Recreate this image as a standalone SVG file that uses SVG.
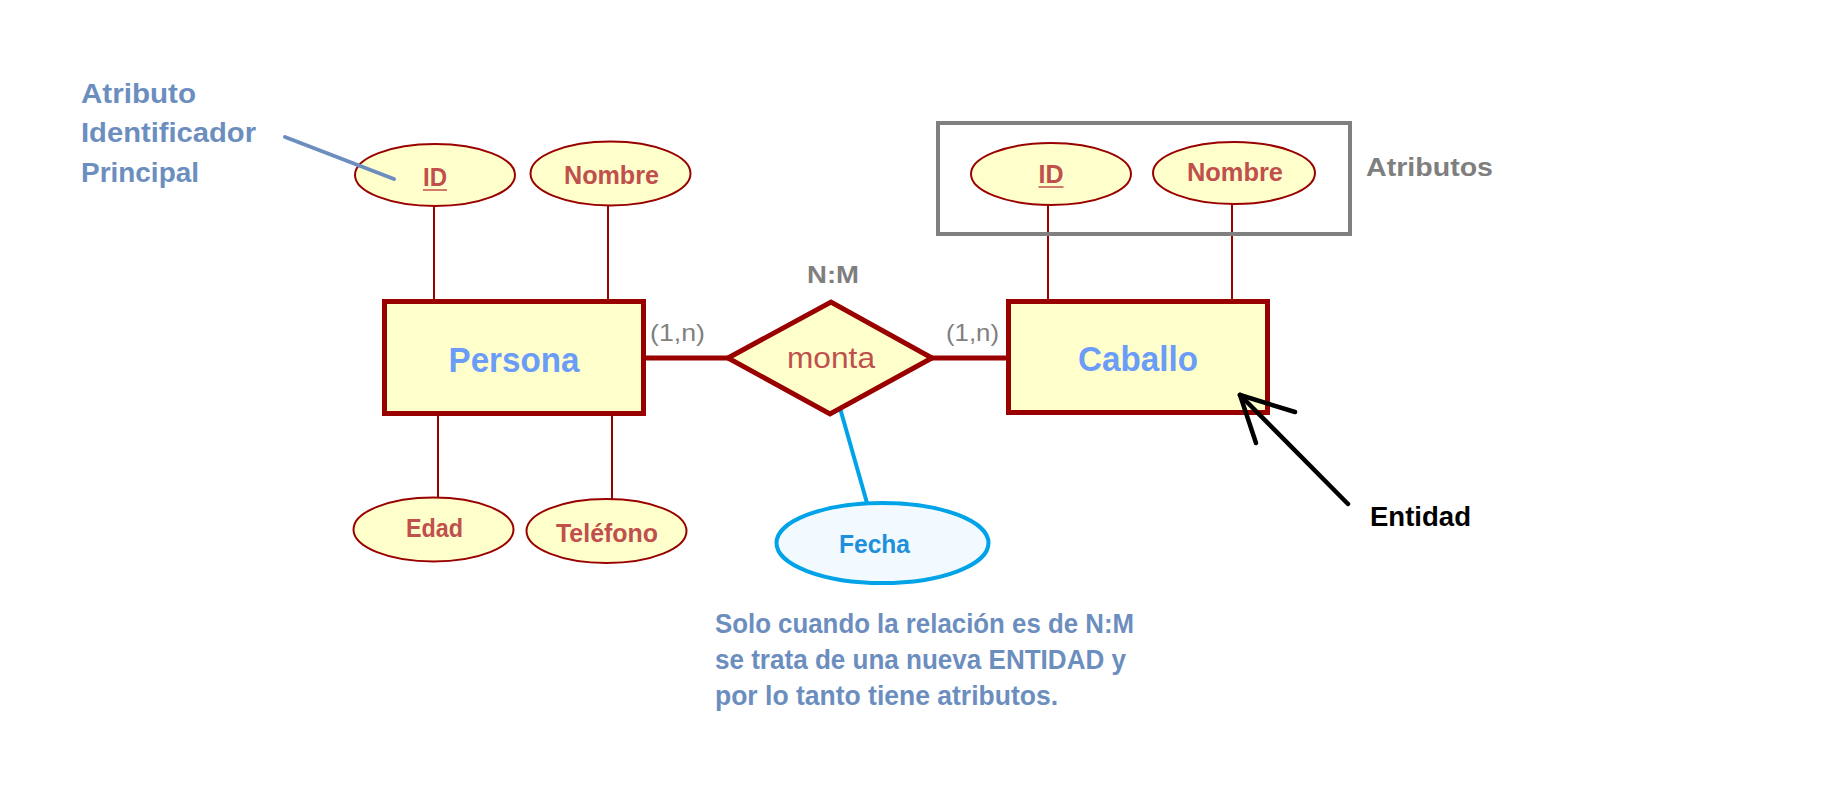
<svg xmlns="http://www.w3.org/2000/svg" width="1825" height="792" viewBox="0 0 1825 792">
<style>
text{font-family:"Liberation Sans",Arial,sans-serif;font-weight:bold}
.attr{fill:#ffffcc;stroke:#990000;stroke-width:2}
.attrT{fill:#c0504d;font-size:25px;text-anchor:middle}
.ent{fill:#ffffcc;stroke:#990000;stroke-width:5}
.entT{fill:#6b9cf7;font-size:35px;text-anchor:middle}
.relT{fill:#c0504d;font-weight:normal;font-size:29px;text-anchor:middle}
.thin{stroke:#990000;stroke-width:2;fill:none}
.thick{stroke:#990000;stroke-width:5;fill:none}
.note{fill:#6c8ebf;font-size:27px}
.gray{fill:#7f7f7f}
.card{fill:#7f7f7f;font-weight:normal;font-size:24px}
</style>
<rect width="1825" height="792" fill="#ffffff"/>

<g id="connectors">
<line class="thin" x1="434" y1="206" x2="434" y2="300"/>
<line class="thin" x1="608" y1="205" x2="608" y2="300"/>
<line class="thin" x1="1048" y1="205" x2="1048" y2="300"/>
<line class="thin" x1="1232" y1="204" x2="1232" y2="300"/>
<line class="thin" x1="438" y1="415" x2="438" y2="498"/>
<line class="thin" x1="612" y1="415" x2="612" y2="499"/>
<line class="thick" x1="646" y1="358" x2="728" y2="358"/>
<line class="thick" x1="932" y1="358" x2="1007" y2="358"/>
<line x1="836" y1="394" x2="867" y2="503" stroke="#00a2e8" stroke-width="4"/>
</g>

<g id="atributos-box">
<rect x="938" y="123" width="412" height="111" fill="none" stroke="#808080" stroke-width="4"/>
<text class="gray" x="1366" y="176" font-size="26" textLength="127" lengthAdjust="spacingAndGlyphs">Atributos</text>
</g>

<g id="persona">
<rect class="ent" x="384.5" y="301.5" width="259" height="112"/>
<text class="entT" x="514" y="372" textLength="131" lengthAdjust="spacingAndGlyphs">Persona</text>
</g>

<g id="caballo">
<rect class="ent" x="1008.5" y="301.5" width="259" height="111"/>
<text class="entT" x="1138" y="371" textLength="120" lengthAdjust="spacingAndGlyphs">Caballo</text>
</g>

<g id="monta">
<polygon class="ent" points="728,358 831,302 932,358 830,414"/>
<text class="relT" x="831" y="368" textLength="88" lengthAdjust="spacingAndGlyphs">monta</text>
<text class="gray" x="833" y="283" font-size="24" text-anchor="middle" textLength="52" lengthAdjust="spacingAndGlyphs">N:M</text>
</g>

<g id="persona-id">
<ellipse class="attr" cx="435" cy="175" rx="80" ry="31"/>
<text class="attrT" x="435" y="186" textLength="24" lengthAdjust="spacingAndGlyphs">ID</text>
<line x1="423" y1="190" x2="447" y2="190" stroke="#c0504d" stroke-width="1.5"/>
</g>

<g id="persona-nombre">
<ellipse class="attr" cx="610.5" cy="173.5" rx="80" ry="32"/>
<text class="attrT" x="611.5" y="184" textLength="95" lengthAdjust="spacingAndGlyphs">Nombre</text>
</g>

<g id="persona-edad">
<ellipse class="attr" cx="433.5" cy="529.5" rx="80" ry="32"/>
<text class="attrT" x="434.5" y="537" textLength="57" lengthAdjust="spacingAndGlyphs">Edad</text>
</g>

<g id="persona-telefono">
<ellipse class="attr" cx="606.5" cy="531" rx="80" ry="32"/>
<text class="attrT" x="607" y="542" textLength="102" lengthAdjust="spacingAndGlyphs">Teléfono</text>
</g>

<g id="caballo-id">
<ellipse class="attr" cx="1051" cy="174" rx="80" ry="31"/>
<text class="attrT" x="1051" y="183" textLength="25" lengthAdjust="spacingAndGlyphs">ID</text>
<line x1="1038.5" y1="187" x2="1063.5" y2="187" stroke="#c0504d" stroke-width="1.5"/>
</g>

<g id="caballo-nombre">
<ellipse class="attr" cx="1234" cy="173" rx="81" ry="31"/>
<text class="attrT" x="1235" y="181" textLength="96" lengthAdjust="spacingAndGlyphs">Nombre</text>
</g>

<g id="fecha">
<ellipse cx="882.5" cy="543" rx="106" ry="40" fill="#f2faff" stroke="#00a2e8" stroke-width="4"/>
<text x="874.5" y="553" fill="#1e8fdb" font-size="26" text-anchor="middle" textLength="71" lengthAdjust="spacingAndGlyphs">Fecha</text>
</g>

<g id="cardinalidades">
<text class="card" x="650" y="341" textLength="55" lengthAdjust="spacingAndGlyphs">(1,n)</text>
<text class="card" x="946" y="341" textLength="53" lengthAdjust="spacingAndGlyphs">(1,n)</text>
</g>

<g id="nota-identificador">
<text class="note" x="81" y="103" textLength="115" lengthAdjust="spacingAndGlyphs">Atributo</text>
<text class="note" x="81" y="142" textLength="175" lengthAdjust="spacingAndGlyphs">Identificador</text>
<text class="note" x="81" y="182" textLength="118" lengthAdjust="spacingAndGlyphs">Principal</text>
<line x1="285" y1="137" x2="394" y2="179" stroke="#6c8ebf" stroke-width="4" stroke-linecap="round"/>
</g>

<g id="nota-nm">
<text class="note" x="715" y="633" font-size="26" textLength="419" lengthAdjust="spacingAndGlyphs">Solo cuando la relación es de N:M</text>
<text class="note" x="715" y="669" font-size="26" textLength="411" lengthAdjust="spacingAndGlyphs">se trata de una nueva ENTIDAD y</text>
<text class="note" x="715" y="705" font-size="26" textLength="343" lengthAdjust="spacingAndGlyphs">por lo tanto tiene atributos.</text>
</g>

<g id="entidad">
<g stroke="#000000" stroke-width="4.5" stroke-linecap="round" fill="none">
<line x1="1348" y1="504" x2="1240" y2="395"/>
<line x1="1240" y1="395" x2="1295" y2="412"/>
<line x1="1240" y1="395" x2="1256" y2="443"/>
</g>
<text x="1370" y="526" fill="#000000" font-size="27" textLength="101" lengthAdjust="spacingAndGlyphs">Entidad</text>
</g>
</svg>
